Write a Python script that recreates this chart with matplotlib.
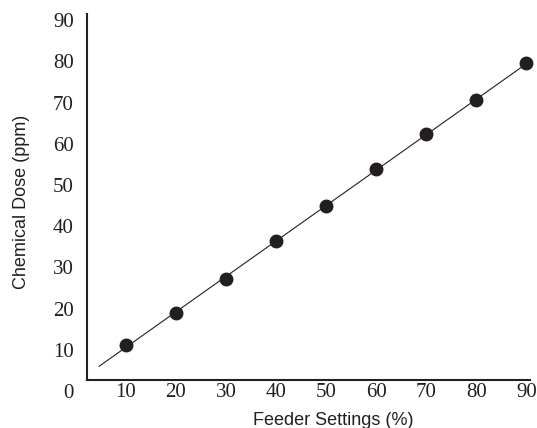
import numpy as np
import matplotlib
matplotlib.use("Agg")
import matplotlib.pyplot as plt

# feeder setting (%) vs measured chemical dose (ppm)
feeder = [10, 20, 30, 40, 50, 60, 70, 80, 90]
dose = [11.2, 18.9, 27.2, 36.4, 44.9, 53.9, 62.4, 70.6, 79.6]

x_ticks = [10, 20, 30, 40, 50, 60, 70, 80, 90]
y_ticks = [0, 10, 20, 30, 40, 50, 60, 70, 80, 90]

# range of the drawn trend line
fit_range = [4.7, 90]

ink = '#231f20'

fig = plt.figure(figsize=(5.37, 4.28), dpi=100)
ax = fig.add_axes([60 / 537, 28 / 428, 477 / 537, 395 / 428])
ax.set_xlim(-3.11, 92.1)
ax.set_ylim(-2.18, 93.7)

# least squares line through the points
slope, intercept = np.polyfit(feeder, dose, 1)
fx = np.array(fit_range)
ax.plot(fx, slope * fx + intercept, color=ink, linewidth=0.8, zorder=2)

ax.plot(feeder, dose, linestyle='none', marker='o', markersize=9,
        markerfacecolor=ink, markeredgecolor=ink, zorder=3)

# axes frame: only left and bottom, meeting at a corner above the 0 label
for side in ['top', 'right']:
    ax.spines[side].set_visible(False)
ax.spines['left'].set_position(('data', 2.3))
ax.spines['bottom'].set_position(('data', 2.7))
ax.spines['left'].set_bounds(2.7, 91.5)
ax.spines['bottom'].set_bounds(2.3, 90.7)
for side in ['left', 'bottom']:
    ax.spines[side].set_linewidth(1.5)
    ax.spines[side].set_color(ink)

ax.set_xticks(x_ticks)
ax.set_yticks(y_ticks)
ax.tick_params(axis='both', length=0, colors=ink)
ax.tick_params(axis='y', pad=9.5)
ax.tick_params(axis='x', pad=2)
for lab in ax.get_xticklabels() + ax.get_yticklabels():
    lab.set_fontfamily('Liberation Serif')
    lab.set_fontsize(15)

ax.set_xlabel('Feeder Settings (%)', fontfamily='Liberation Sans',
              fontsize=13, color=ink)
ax.set_ylabel('Chemical Dose (ppm)', fontfamily='Liberation Sans',
              fontsize=13, color=ink)
ax.xaxis.set_label_coords(0.572, -0.03)
ax.yaxis.set_label_coords(-0.062, 0.501)

fig.savefig('out.png', dpi=100)
